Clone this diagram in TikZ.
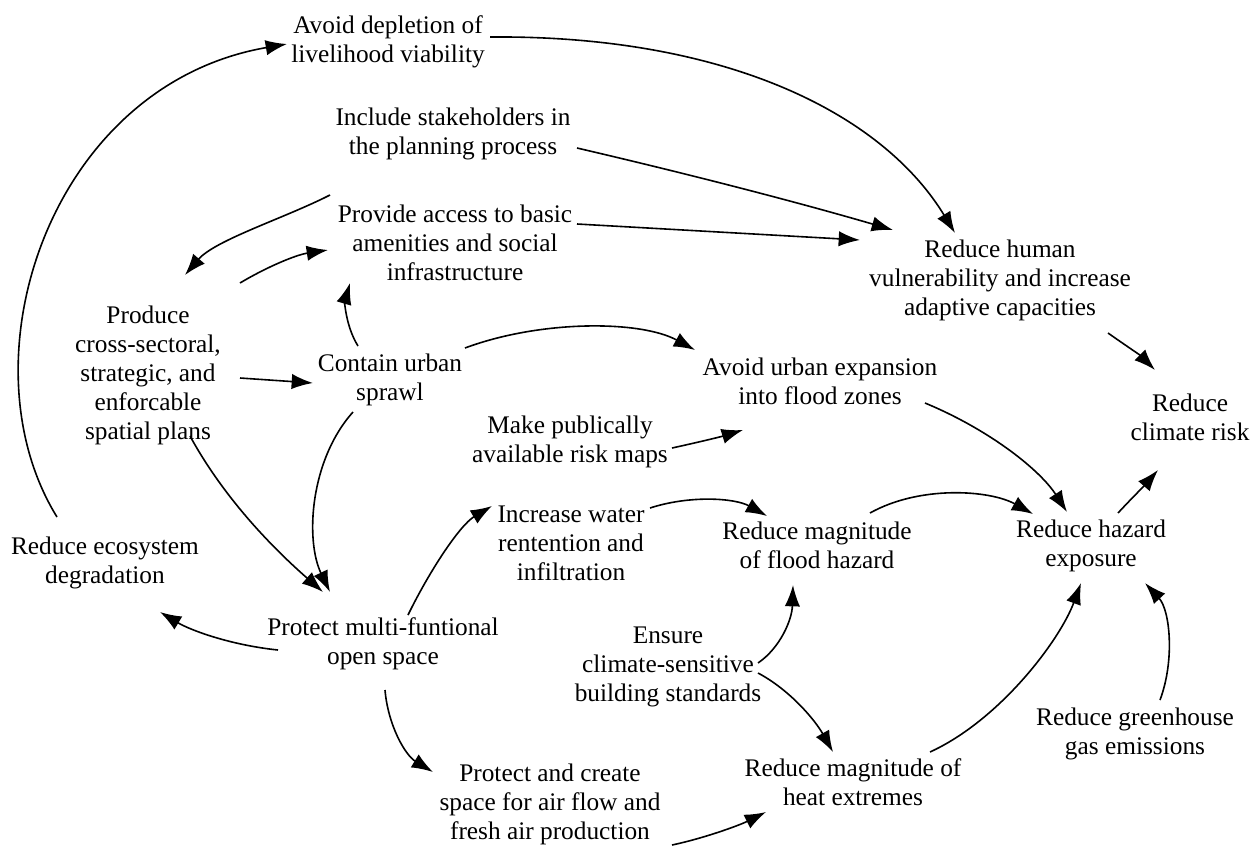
\documentclass[tikz,border=0pt]{standalone}
\usepackage{fontspec}
\setmainfont{Liberation Serif}
\usetikzlibrary{arrows.meta}
\begin{document}
\begin{tikzpicture}[x=0.75pt,y=-0.75pt,
  lbl/.style={align=center,inner sep=0pt,font=\fontsize{19}{21.75}\selectfont},
  arr/.style={line width=1.2pt,-{Latex[length=16pt,width=11.5pt]}}]
\useasboundingbox (0,0) rectangle (1253,847);
\node[lbl] (dep) at (388,42) {Avoid depletion of\\livelihood viability};
\node[lbl] (inc) at (453,134) {Include stakeholders in\\the planning process};
\node[lbl] (prov) at (455,243) {Provide access to basic\\amenities and social\\infrastructure};
\node[lbl] (vul) at (1000,280) {Reduce human\\vulnerability and increase\\adaptive capacities};
\node[lbl] (prod) at (148,375) {Produce\\cross-sectoral,\\strategic, and\\enforcable\\spatial plans};
\node[lbl] (cont) at (390,380) {Contain urban\\sprawl};
\node[lbl] (avu) at (820,381) {Avoid urban expansion\\into flood zones};
\node[lbl] (risk) at (1190,417) {Reduce\\climate risk};
\node[lbl] (maps) at (570,442) {Make publically\\available risk maps};
\node[lbl] (wat) at (571,543) {Increase water\\rentention and\\infiltration};
\node[lbl] (flood) at (817,545) {Reduce magnitude\\of flood hazard};
\node[lbl] (haz) at (1091,546) {Reduce hazard\\exposure};
\node[lbl] (eco) at (105,563) {Reduce ecosystem\\degradation};
\node[lbl] (open) at (383,644) {Protect multi-funtional\\open space};
\node[lbl] (ens) at (668,667) {Ensure\\climate-sensitive\\building standards};
\node[lbl] (ghg) at (1135,734) {Reduce greenhouse\\gas emissions};
\node[lbl] (heat) at (853,782) {Reduce magnitude of\\heat extremes};
\node[lbl] (air) at (550,804) {Protect and create\\space for air flow and\\fresh air production};

\draw[arr] ([shift={(-48,-46)}]eco.center) .. controls (-40,360) and (50,85) .. ([shift={(-101,2)}]dep.center);
\draw[arr] ([shift={(102,-5)}]dep.center) .. controls (720,35) and (880,110) .. ([shift={(-45,-47)}]vul.center);
\draw[arr] ([shift={(124,14)}]inc.center) .. controls (680,172) and (790,200) .. ([shift={(-107,-50)}]vul.center);
\draw[arr] ([shift={(122,-19)}]prov.center) -- ([shift={(-140,-40)}]vul.center);
\draw[arr] ([shift={(-123,61)}]inc.center) .. controls (285,218) and (215,240) .. ([shift={(37,-100)}]prod.center);
\draw[arr] ([shift={(92,-92)}]prod.center) .. controls (265,268) and (295,255) .. ([shift={(-127,7)}]prov.center);
\draw[arr] ([shift={(-32,-34)}]cont.center) .. controls (345,325) and (345,300) .. ([shift={(-105,40)}]prov.center);
\draw[arr] ([shift={(92,3)}]prod.center) -- ([shift={(-77,3)}]cont.center);
\draw[arr] ([shift={(75,-32)}]cont.center) .. controls (540,320) and (640,320) .. ([shift={(-125,-31)}]avu.center);
\draw[arr] ([shift={(102,6)}]maps.center) .. controls (695,443) and (720,437) .. ([shift={(-77,49)}]avu.center);
\draw[arr] ([shift={(108,53)}]vul.center) .. controls (1125,345) and (1140,355) .. ([shift={(-35,-47)}]risk.center);
\draw[arr] ([shift={(105,22)}]avu.center) .. controls (990,430) and (1040,470) .. ([shift={(-24,-34)}]haz.center);
\draw[arr] ([shift={(27,-33)}]haz.center) .. controls (1130,500) and (1145,485) .. ([shift={(-32,53)}]risk.center);
\draw[arr] ([shift={(79,-35)}]wat.center) .. controls (690,495) and (735,498) .. ([shift={(-50,-29)}]flood.center);
\draw[arr] ([shift={(53,-32)}]flood.center) .. controls (920,485) and (990,490) .. ([shift={(-58,-32)}]haz.center);
\draw[arr] ([shift={(42,61)}]prod.center) .. controls (225,500) and (275,550) .. ([shift={(-60,-52)}]open.center);
\draw[arr] ([shift={(-37,32)}]cont.center) .. controls (310,460) and (305,540) .. ([shift={(-53,-52)}]open.center);
\draw[arr] ([shift={(25,-29)}]open.center) .. controls (430,570) and (460,525) .. ([shift={(-79,-37)}]wat.center);
\draw[arr] ([shift={(-105,6)}]open.center) .. controls (230,645) and (190,630) .. ([shift={(55,49)}]eco.center);
\draw[arr] ([shift={(2,46)}]open.center) .. controls (388,725) and (405,755) .. ([shift={(-117,-32)}]air.center);
\draw[arr] ([shift={(90,-4)}]ens.center) .. controls (780,648) and (792,620) .. ([shift={(-24,40)}]flood.center);
\draw[arr] ([shift={(90,6)}]ens.center) .. controls (790,690) and (815,720) .. ([shift={(-20,-30)}]heat.center);
\draw[arr] ([shift={(122,41)}]air.center) .. controls (705,838) and (740,825) .. ([shift={(-87,30)}]heat.center);
\draw[arr] ([shift={(77,-30)}]heat.center) .. controls (1000,720) and (1060,640) .. ([shift={(-10,37)}]haz.center);
\draw[arr] ([shift={(25,-34)}]ghg.center) .. controls (1175,660) and (1170,610) .. ([shift={(54,37)}]haz.center);
\end{tikzpicture}
\end{document}
